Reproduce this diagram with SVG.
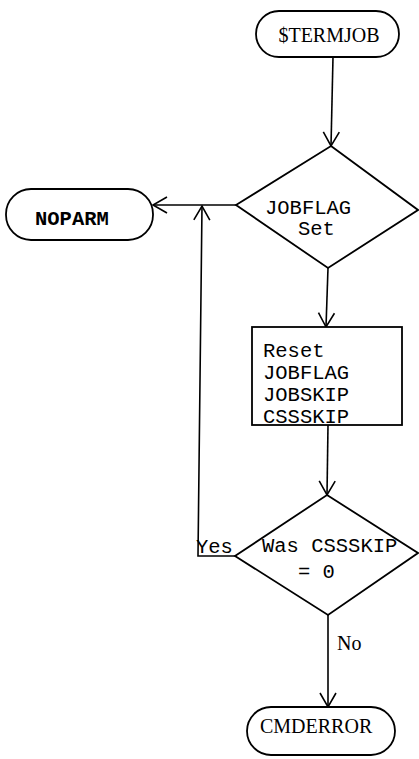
<svg xmlns="http://www.w3.org/2000/svg" width="419" height="759" viewBox="0 0 419 759">
<style>
.sh{fill:#fff;stroke:#000;stroke-width:1.8}
.ln{fill:none;stroke:#000;stroke-width:1.6}
.mono{font-family:"Liberation Mono","Courier New",monospace;font-size:20.5px;fill:#000}
.ser{font-family:"Liberation Serif","Times New Roman",serif;font-size:20px;fill:#000}
</style>
<defs>
<marker id="ah" markerUnits="userSpaceOnUse" markerWidth="16" markerHeight="18" refX="14" refY="8" orient="auto" overflow="visible">
<path d="M0,0 L14,8 L0,16" fill="none" stroke="#000" stroke-width="1.6"/>
</marker>
</defs>
<g id="connectors">
<line class="ln" x1="333" y1="57" x2="331" y2="146" marker-end="url(#ah)"/>
<line class="ln" x1="236" y1="205" x2="153" y2="205" marker-end="url(#ah)"/>
<line class="ln" x1="328" y1="268" x2="326" y2="327" marker-end="url(#ah)"/>
<line class="ln" x1="328" y1="425" x2="327" y2="495" marker-end="url(#ah)"/>
<polyline class="ln" points="235,556 198,556 202,206" marker-end="url(#ah)"/>
<line class="ln" x1="328" y1="615" x2="328" y2="707" marker-end="url(#ah)"/>
</g>
<g id="termjob">
<rect class="sh" x="256" y="11" width="143" height="46" rx="23"/>
<text class="ser" x="329" y="42" text-anchor="middle">$TERMJOB</text>
</g>
<g id="jobflag">
<polygon class="sh" points="331,146 418,210 328,268 236,205"/>
<text class="mono" x="265" y="214">JOBFLAG</text>
<text class="mono" x="298" y="235">Set</text>
</g>
<g id="noparm">
<rect class="sh" x="6" y="189" width="147" height="51" rx="25"/>
<text class="mono" x="35" y="225" font-weight="bold" font-size="21px">NOPARM</text>
</g>
<g id="reset">
<rect class="sh" x="252" y="327" width="150" height="98"/>
<text class="mono" x="263" y="357">Reset</text>
<text class="mono" x="263" y="379">JOBFLAG</text>
<text class="mono" x="263" y="401">JOBSKIP</text>
<text class="mono" x="263" y="423">CSSSKIP</text>
</g>
<g id="cssskip">
<polygon class="sh" points="327,495 418,553 328,615 235,556"/>
<text class="mono" x="262" y="552">Was CSSSKIP</text>
<text class="mono" x="298" y="578">= 0</text>
<text class="mono" x="196" y="553">Yes</text>
<text class="ser" x="337" y="650">No</text>
</g>
<g id="cmderror">
<rect class="sh" x="247" y="707" width="148" height="48" rx="24"/>
<text class="ser" x="260" y="733">CMDERROR</text>
</g>
</svg>
